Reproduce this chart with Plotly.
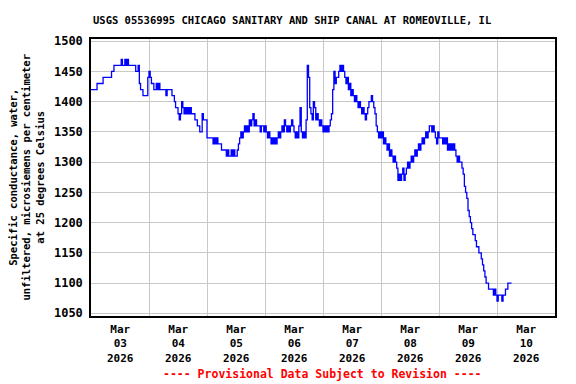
import pandas as pd
import plotly.graph_objects as go

# 30-minute specific conductance values (uS/cm at 25 C), starting 2026-03-03 00:00
mar03 = [1420, 1420, 1420, 1420, 1420, 1430, 1430, 1430, 1430, 1430,
         1440, 1440, 1440, 1440, 1440, 1440, 1440, 1450, 1450,
         1460, 1460, 1460, 1460, 1460, 1460, 1470, 1460, 1460,
         1470, 1460, 1470, 1460, 1460, 1460, 1460, 1460, 1460,
         1450, 1450, 1460, 1430, 1420, 1420, 1410, 1410, 1410, 1410, 1440]
mar04 = [1450, 1440, 1430, 1430, 1420, 1420, 1430, 1420, 1430,
         1420, 1420, 1420, 1420, 1420, 1410, 1420, 1420, 1420, 1420,
         1410, 1410, 1400, 1390, 1390, 1380, 1370, 1380, 1400, 1390,
         1380, 1390, 1380, 1390, 1380, 1390, 1380, 1380, 1380,
         1370, 1370, 1360, 1360, 1350, 1350, 1380, 1370, 1370, 1370]
mar05 = [1340, 1340, 1340, 1340, 1340, 1330, 1340, 1330, 1340,
         1330, 1330, 1330, 1320, 1320, 1320, 1320,
         1310, 1320, 1310, 1310, 1320, 1310, 1320, 1310, 1310, 1320,
         1330, 1340, 1350, 1340, 1350, 1360, 1350, 1360, 1350,
         1370, 1360, 1370, 1380, 1360, 1370, 1360,
         1360, 1360, 1350, 1360, 1360, 1350]
mar06 = [1360, 1350, 1340, 1350, 1340, 1330, 1340, 1330, 1340, 1330, 1340,
         1350, 1340, 1350, 1360, 1350, 1370, 1360, 1350, 1360, 1350, 1360,
         1370, 1360, 1350, 1340, 1350, 1340, 1360, 1390, 1350,
         1340, 1350, 1340, 1370, 1460, 1440, 1390, 1380, 1370, 1400, 1390,
         1370, 1380, 1370, 1360, 1370, 1360]
mar07 = [1350, 1360, 1350, 1360, 1350, 1360, 1370, 1380, 1420,
         1450, 1430, 1440, 1440, 1450, 1460, 1450, 1460, 1450, 1440,
         1430, 1440, 1420, 1430, 1410, 1420, 1410, 1400, 1410, 1400,
         1390, 1400, 1390, 1380, 1390, 1380, 1370, 1380, 1390,
         1400, 1400, 1410, 1400, 1390, 1380, 1360, 1350, 1340, 1350]
mar08 = [1340, 1350, 1330, 1340, 1330, 1320, 1330, 1310, 1320, 1310,
         1300, 1310, 1300, 1290, 1270, 1280, 1270, 1280, 1290, 1270, 1280,
         1290, 1300, 1290, 1300, 1310, 1300, 1310, 1320, 1310, 1320,
         1330, 1320, 1330, 1340, 1330, 1340, 1350, 1340, 1350, 1360,
         1360, 1350, 1360, 1350, 1340, 1330, 1350]
mar09 = [1340, 1340, 1340, 1330, 1340, 1330, 1340, 1320, 1330, 1320,
         1330, 1320, 1330, 1320, 1310, 1300, 1310, 1300, 1300,
         1290, 1280, 1260, 1250, 1240, 1220, 1210, 1200, 1190, 1180, 1180,
         1170, 1160, 1160, 1150, 1150, 1140, 1130, 1120, 1110, 1100, 1100,
         1090, 1090, 1090, 1090, 1080, 1090, 1080]
mar10 = [1070, 1080, 1080, 1080, 1070, 1080, 1080, 1090, 1090, 1100, 1100, 1100, 1100]

conductance = mar03 + mar04 + mar05 + mar06 + mar07 + mar08 + mar09 + mar10
times = pd.date_range("2026-03-03 00:00", periods=len(conductance), freq="30min")

tick_dates = ["2026-03-03", "2026-03-04", "2026-03-05", "2026-03-06",
              "2026-03-07", "2026-03-08", "2026-03-09", "2026-03-10"]
tick_month = ["Mar"] * 8
tick_day = ["03", "04", "05", "06", "07", "08", "09", "10"]
tick_year = ["2026"] * 8
y_ticks = [1050, 1100, 1150, 1200, 1250, 1300, 1350, 1400, 1450, 1500]

FONT = "DejaVu Sans Mono"

fig = go.Figure()
fig.add_trace(go.Scatter(x=times, y=conductance, mode="lines",
                         line=dict(color="#0000ff", width=1.3, shape="hv"),
                         hoverinfo="skip", showlegend=False))

annotations = []
for d, m, dd, yy in zip(tick_dates, tick_month, tick_day, tick_year):
    xc = pd.Timestamp(d) + pd.Timedelta(hours=12)
    annotations.append(dict(x=xc, y=0, xref="x", yref="paper",
                            text=f"{m}<br>{dd}<br>{yy}",
                            showarrow=False, yanchor="middle", xanchor="center",
                            yshift=-27.5, borderpad=0,
                            font=dict(family=FONT, size=11, color="black", weight="bold")))

annotations.append(dict(x=0.4335, y=1, xref="paper", yref="paper", yshift=19,
                        text="USGS 05536995 CHICAGO SANITARY AND SHIP CANAL AT ROMEOVILLE, IL",
                        showarrow=False, xanchor="center", yanchor="middle",
                        font=dict(family=FONT, size=10.5, color="black", weight="bold")))
annotations.append(dict(x=0.498, y=0, xref="paper", yref="paper", yshift=-58,
                        text="---- Provisional Data Subject to Revision ----",
                        showarrow=False, xanchor="center", yanchor="middle",
                        font=dict(family=FONT, size=11.5, color="#ff0000", weight="bold")))
annotations.append(dict(x=-0.14, y=0.5, xref="paper", yref="paper",
                        text="Specific conductance, water,<br>unfiltered, microsiemens per centimeter<br>at 25 degrees Celsius",
                        textangle=-90, showarrow=False, xanchor="center", yanchor="middle",
                        font=dict(family=FONT, size=10.5, color="black", weight="bold")))

fig.update_layout(
    width=576, height=384,
    margin=dict(l=91, r=21, t=39, b=68),
    paper_bgcolor="white", plot_bgcolor="white",
    annotations=annotations,
    xaxis=dict(range=["2026-03-03 00:00", "2026-03-11 00:00"], type="date",
               tick0="2026-03-03", dtick=86400000, showticklabels=False,
               showgrid=True, gridcolor="#c8c8c8", gridwidth=1, ticks="",
               showline=True, linecolor="black", linewidth=1.5, mirror=True,
               zeroline=False),
    yaxis=dict(range=[1045.5, 1503.6], tickvals=y_ticks,
               ticktext=[str(v) for v in y_ticks],
               showgrid=True, gridcolor="#c8c8c8", gridwidth=1, ticks="",
               ticklabelstandoff=4,
               tickfont=dict(family=FONT, size=12, color="black", weight="bold"),
               showline=True, linecolor="black", linewidth=1.5, mirror=True,
               zeroline=False),
)

fig.write_html("out.html", config={"displayModeBar": False},
               post_script="document.body.style.margin='0';document.body.style.overflow='hidden';")
